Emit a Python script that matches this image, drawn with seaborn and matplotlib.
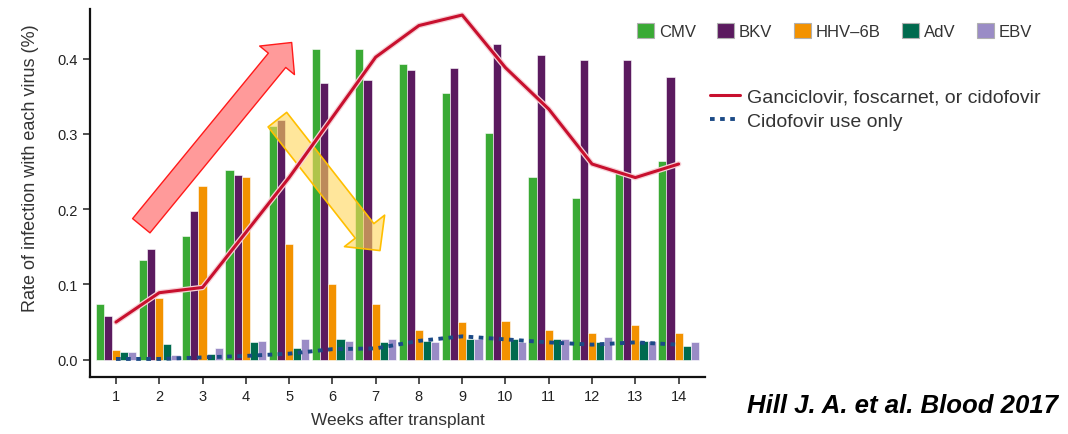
import numpy as np
import pandas as pd
import matplotlib
matplotlib.use("Agg")
import matplotlib.pyplot as plt
import seaborn as sns
from matplotlib.patches import Patch, FancyArrowPatch, ArrowStyle
from matplotlib.lines import Line2D
import matplotlib.patheffects as pe

# Weekly infection rates by virus
weeks = ["1", "2", "3", "4", "5", "6", "7", "8", "9", "10", "11", "12", "13", "14"]
viruses = ["CMV", "BKV", "HHV\u20136B", "AdV", "EBV"]
cmv = [0.074, 0.132, 0.165, 0.252, 0.311, 0.413, 0.413, 0.393, 0.355, 0.301, 0.243, 0.215, 0.249, 0.264]
bkv = [0.058, 0.147, 0.197, 0.246, 0.319, 0.368, 0.372, 0.385, 0.387, 0.420, 0.405, 0.398, 0.398, 0.376]
hhv6b = [0.013, 0.082, 0.231, 0.243, 0.154, 0.100, 0.074, 0.039, 0.050, 0.051, 0.039, 0.036, 0.046, 0.036]
adv = [0.010, 0.021, 0.008, 0.023, 0.016, 0.027, 0.023, 0.025, 0.027, 0.028, 0.027, 0.023, 0.025, 0.018]
ebv = [0.010, 0.006, 0.016, 0.025, 0.027, 0.025, 0.027, 0.023, 0.027, 0.023, 0.027, 0.030, 0.025, 0.023]

# Antiviral use per week
any_antiviral = [0.050, 0.089, 0.096, 0.169, 0.242, 0.322, 0.402, 0.444, 0.458, 0.388, 0.333, 0.260, 0.242, 0.260]
cidofovir_only = [0.001, 0.001, 0.003, 0.005, 0.008, 0.014, 0.015, 0.025, 0.031, 0.027, 0.023, 0.020, 0.023, 0.020]

line_labels = ["Ganciclovir, foscarnet, or cidofovir", "Cidofovir use only"]
citation = "Hill J. A. et al. Blood 2017"

palette = ["#3aaa35", "#5b1a5f", "#f39200", "#006a4e", "#9a8cc6"]

rates = pd.DataFrame({"week": weeks, viruses[0]: cmv, viruses[1]: bkv,
                      viruses[2]: hhv6b, viruses[3]: adv, viruses[4]: ebv})
long = rates.melt(id_vars="week", var_name="virus", value_name="rate")

sns.set_style("white")
plt.rcParams["font.family"] = ["Liberation Sans", "DejaVu Sans"]

W, H = 1068, 435
fig = plt.figure(figsize=(W / 100, H / 100), dpi=100)
ax = fig.add_axes([90 / W, 1 - 378 / H, (705 - 90) / W, (378 - 10) / H])

sns.barplot(data=long, x="week", y="rate", hue="virus", order=weeks,
            hue_order=viruses, palette=palette, saturation=1, width=0.94,
            gap=0, edgecolor="white", linewidth=0.4, legend=False, ax=ax)

pos = np.arange(len(weeks))
sns.lineplot(x=pos, y=any_antiviral, ax=ax, color="#c8102e", linewidth=2.2,
             zorder=5, path_effects=[pe.withStroke(linewidth=4.0, foreground="#f6d0d6")])
sns.lineplot(x=pos, y=cidofovir_only, ax=ax, color="#1b4a86", linewidth=2.8,
             linestyle=(0, (1.2, 1.4)), zorder=5)

ax.set_xlim(-0.6, 13.61)
ax.set_ylim(-0.023, 0.466)
ax.set_yticks([0.0, 0.1, 0.2, 0.3, 0.4])
ax.set_yticklabels(["0.0", "0.1", "0.2", "0.3", "0.4"])
sns.despine(ax=ax)
for s in ("left", "bottom"):
    ax.spines[s].set_linewidth(1.6)
    ax.spines[s].set_color("#111111")
ax.tick_params(axis="both", direction="out", length=5, width=1.1,
               labelsize=10.5, colors="#222222", left=True, bottom=True)

ax.set_xlabel("Weeks after transplant", fontsize=12.5, color="#333333")
ax.set_ylabel("Rate of infection with each virus (%)", fontsize=13, color="#333333")
ax.xaxis.set_label_coords(0.5, (378 - 413) / 368)
ax.yaxis.set_label_coords((39 - 90) / 615, (378 - 168) / 368)

# Trend arrows
up = FancyArrowPatch((0.585, 0.178), (4.06, 0.4215),
                     arrowstyle=ArrowStyle.Simple(head_length=16.6, head_width=32.4, tail_width=16.2),
                     mutation_scale=1, facecolor="#ff9a9a", edgecolor="#ff1a1a",
                     linewidth=1.0, shrinkA=0, shrinkB=0, zorder=7)
down = FancyArrowPatch((3.73, 0.319), (6.10, 0.145),
                       arrowstyle=ArrowStyle.Simple(head_length=18, head_width=36.7, tail_width=17),
                       mutation_scale=1, facecolor=(1.0, 0.84, 0.35, 0.6), edgecolor="#ffbf00",
                       linewidth=1.2, shrinkA=0, shrinkB=0, zorder=4)
ax.add_patch(up)
ax.add_patch(down)

bar_handles = [Patch(facecolor=c, edgecolor="#b0b0b0", linewidth=0.8, label=v)
               for c, v in zip(palette, viruses)]
fig.legend(handles=bar_handles, ncol=5, loc="center left",
           bbox_to_anchor=(637 / W, 1 - 31.7 / H), frameon=False, fontsize=12,
           handlelength=1.0, handleheight=1.0, handletextpad=0.3,
           columnspacing=1.3, borderpad=0, borderaxespad=0, labelcolor="#333333")

line_handles = [Line2D([], [], color="#c8102e", linewidth=2.2, label=line_labels[0]),
                Line2D([], [], color="#1b4a86", linewidth=2.8, linestyle=(0, (1.2, 1.4)),
                       label=line_labels[1])]
fig.legend(handles=line_handles, loc="center left",
           bbox_to_anchor=(710 / W, 1 - 110 / H), frameon=False, fontsize=14,
           handlelength=1.55, handletextpad=0.36, labelspacing=0.32,
           borderpad=0, borderaxespad=0, labelcolor="#333333")

fig.text(1058 / W, 1 - 406 / H, citation, ha="right", va="center",
         fontsize=18.5, fontweight="bold", fontstyle="italic", color="black")

fig.savefig("out.png", dpi=100)
